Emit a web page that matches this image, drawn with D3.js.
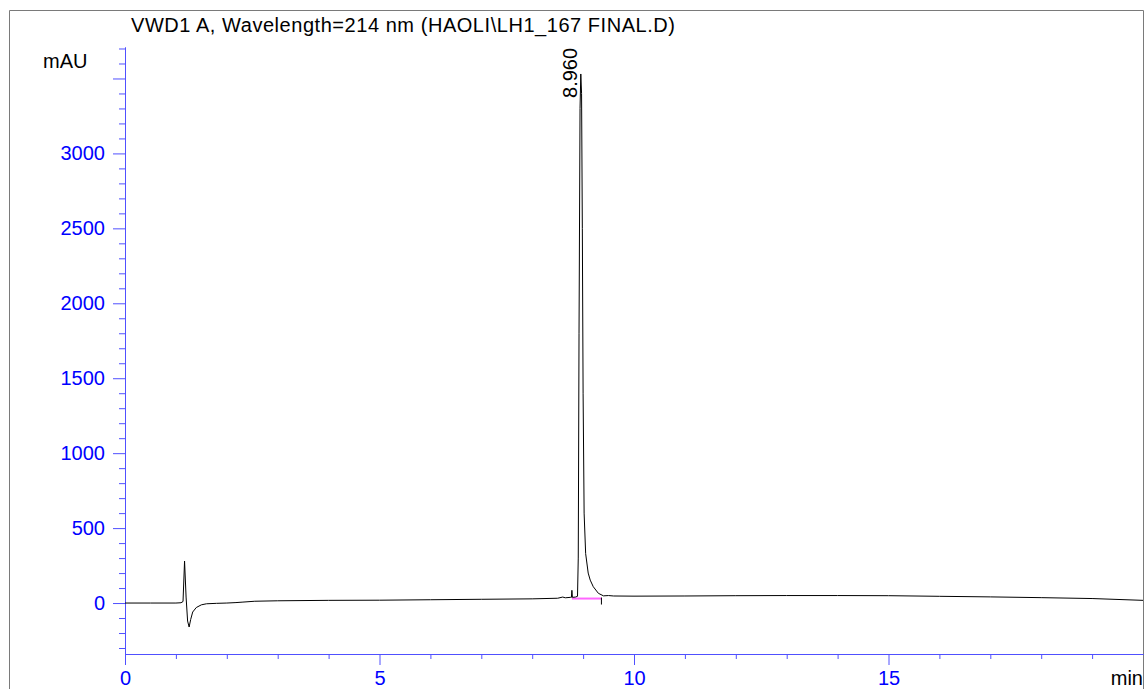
<!DOCTYPE html>
<html>
<head>
<meta charset="utf-8">
<script src="https://cdn.jsdelivr.net/npm/d3@7"></script>
<style>
  body { margin: 0; background: #fff; }
  svg { display: block; }
  text { font-family: "Liberation Sans", Arial, sans-serif; }
</style>
</head>
<body>
<svg id="chart" width="1145" height="689"></svg>
<script>
// chromatogram: time (min) and signal (mAU)
let times = [0, 0.5, 1.0, 1.10, 1.14, 1.17, 1.20, 1.23, 1.26, 1.29, 1.33, 1.40, 1.50, 1.60, 1.80,
    2.00, 2.18, 2.30, 2.55, 3.0, 4.0, 5.0, 6.0, 7.0, 8.0, 8.5, 8.6, 8.65, 8.75, 8.77, 8.78, 8.79,
    8.85, 8.89, 8.905, 8.92, 8.94, 8.955, 8.97, 8.985, 9.00, 9.02, 9.05, 9.10, 9.14, 9.20, 9.30, 9.40,
    9.50, 9.6, 10, 11, 12, 13, 14, 15, 16, 17, 18, 19, 20];
let signal = [0, 0, 0, 2, 10, 280, 40, -120, -160, -110, -60, -30, -12, -5, -2,
    0, 3, 6, 12, 15, 18, 19, 22, 25, 28, 32, 40, 35, 38, 38, 85, 38,
    40, 45, 300, 1800, 3300, 3530, 3400, 2500, 1400, 600, 330, 200, 153, 109, 65, 48,
    50, 47, 46, 47, 49, 50, 50, 49, 45, 41, 36, 30, 18];

// integration baseline under the peak
let baseTimes = [8.78, 9.36];
let baseValues = [30, 30];

let peakTime = 8.960;
let peakValue = 3530;

let xMajor = [0, 5, 10, 15];
let xMinor = [1, 2, 3, 4, 6, 7, 8, 9, 11, 12, 13, 14, 16, 17, 18, 19];
let yMajor = [0, 500, 1000, 1500, 2000, 2500, 3000, 3500];
let yLabelled = [0, 500, 1000, 1500, 2000, 2500, 3000];
let yMinor = [-300, -200, -100, 100, 200, 300, 400, 600, 700, 800, 900, 1100, 1200, 1300, 1400,
    1600, 1700, 1800, 1900, 2100, 2200, 2300, 2400, 2600, 2700, 2800, 2900, 3100, 3200, 3300,
    3400, 3600, 3700];

let titleText = "VWD1 A, Wavelength=214 nm (HAOLI\\LH1_167 FINAL.D)";

let svg = d3.select("#chart");
let plotLeft = 125, plotRight = 1143, plotTop = 47, plotBottom = 654;
let axisBlue = "#5050ff";
let labelBlue = "#0000ff";
let fontSize = "20px";

let x = d3.scaleLinear().domain([0, 20]).range([plotLeft, plotRight]);
let y = d3.scaleLinear().domain([-340, 3710]).range([plotBottom, plotTop]);

// outer frame
svg.append("path")
    .attr("d", "M9.5,700 V10.5 H1143.5 V700")
    .attr("fill", "none")
    .attr("stroke", "#7a7a7a")
    .attr("stroke-width", 1);

// title
svg.append("text")
    .attr("x", 131).attr("y", 32)
    .style("font-size", fontSize)
    .attr("textLength", 544)
    .attr("lengthAdjust", "spacing")
    .attr("fill", "#000")
    .text(titleText);

function styleAxis(g) {
    g.style("font-size", fontSize);
    g.select(".domain").attr("stroke", axisBlue);
    g.selectAll(".tick line").attr("stroke", axisBlue);
    g.selectAll(".tick text").attr("fill", labelBlue)
        .style("font-size", fontSize);
}

// y axis
let yMinorAxis = svg.append("g")
    .attr("transform", "translate(" + plotLeft + ",0)")
    .call(d3.axisLeft(y).tickValues(yMinor).tickSize(6).tickSizeOuter(0).tickFormat(""));
styleAxis(yMinorAxis);

let yMajorAxis = svg.append("g")
    .attr("transform", "translate(" + plotLeft + ",0)")
    .call(d3.axisLeft(y).tickValues(yMajor).tickSize(12).tickSizeOuter(0).tickPadding(8)
        .tickFormat(d => yLabelled.includes(d) ? d : ""));
styleAxis(yMajorAxis);

// x axis
let xMinorAxis = svg.append("g")
    .attr("transform", "translate(0," + plotBottom + ")")
    .call(d3.axisBottom(x).tickValues(xMinor).tickSize(5).tickSizeOuter(0).tickFormat(""));
styleAxis(xMinorAxis);

let xMajorAxis = svg.append("g")
    .attr("transform", "translate(0," + plotBottom + ")")
    .call(d3.axisBottom(x).tickValues(xMajor).tickSize(11).tickSizeOuter(0).tickPadding(6)
        .tickFormat(d3.format("d")));
styleAxis(xMajorAxis);

// unit labels
svg.append("text")
    .attr("x", 43).attr("y", 68)
    .style("font-size", fontSize)
    .text("mAU");

svg.append("text")
    .attr("x", 1143).attr("y", 685)
    .attr("text-anchor", "end")
    .style("font-size", fontSize)
    .text("min");

// integration baseline
let basePts = baseTimes.map((t, i) => [t, baseValues[i]]);
svg.append("path")
    .attr("d", d3.line().x(d => x(d[0])).y(d => y(d[1]))(basePts))
    .attr("fill", "none")
    .attr("stroke", "#ff66ff")
    .attr("stroke-width", 2);

// end-of-peak marker
svg.append("line")
    .attr("x1", x(baseTimes[1])).attr("x2", x(baseTimes[1]))
    .attr("y1", y(baseValues[1]) - 1).attr("y2", y(baseValues[1]) + 6)
    .attr("stroke", "#000");

// signal trace
let pts = times.map((t, i) => [t, signal[i]]);
svg.append("path")
    .attr("d", d3.line().x(d => x(d[0])).y(d => y(d[1]))(pts))
    .attr("fill", "none")
    .attr("stroke", "#000")
    .attr("stroke-width", 1);

// peak label, reading upwards just left of the apex
let px = x(peakTime) - 4, py = y(peakValue) + 24;
svg.append("text")
    .attr("transform", "translate(" + px + "," + py + ") rotate(-90)")
    .style("font-size", fontSize)
    .text(peakTime.toFixed(3));
</script>
</body>
</html>
